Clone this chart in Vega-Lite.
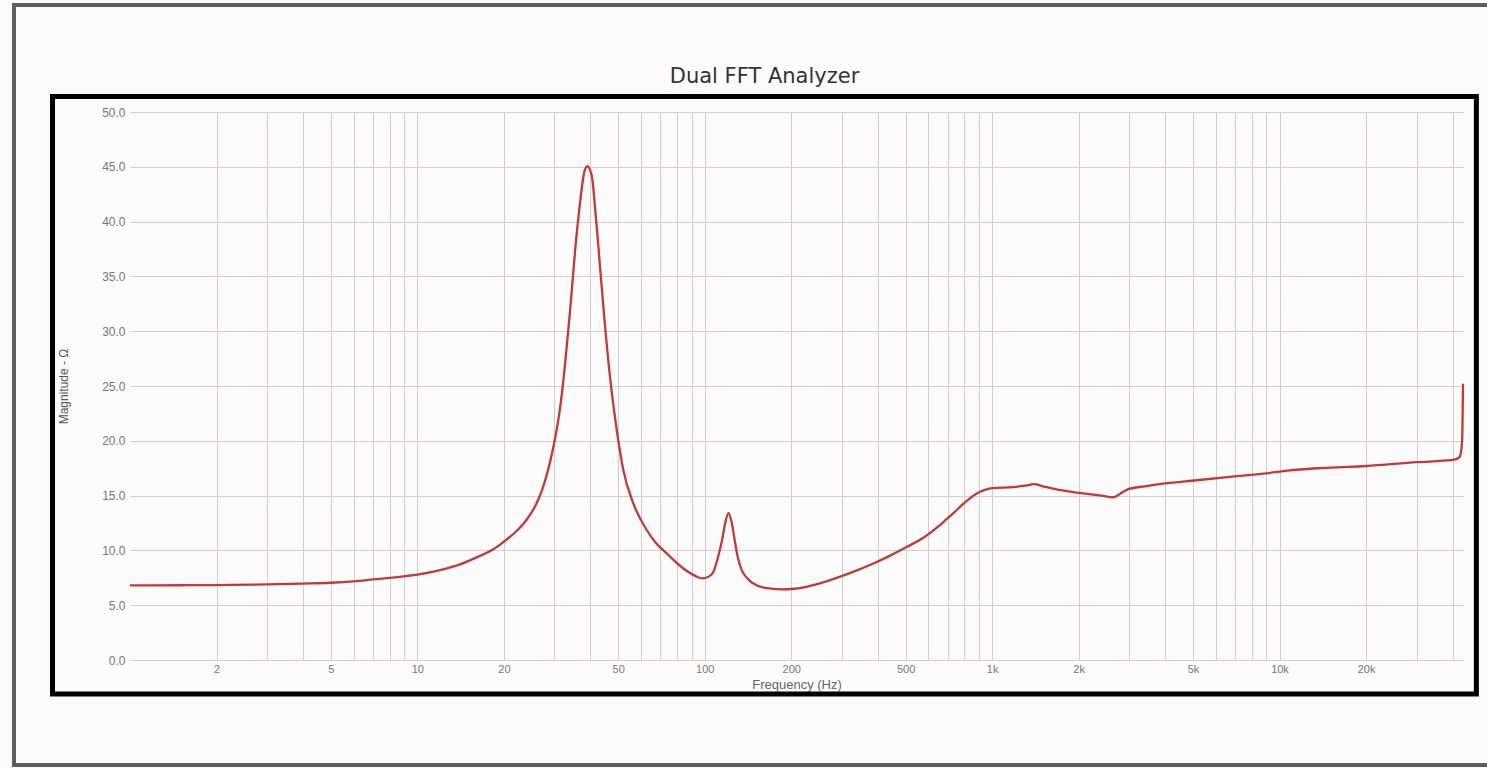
{
  "$schema": "https://vega.github.io/schema/vega-lite/v6.json",
  "width": 1333,
  "height": 548,
  "autosize": {"type": "none"},
  "padding": {"left": 130, "top": 112, "right": 24, "bottom": 108},
  "background": "#fbfbfb",
  "config": {
    "view": {"stroke": null},
    "font": "Liberation Sans"
  },
  "title": {
    "text": "Dual FFT Analyzer",
    "font": "DejaVu Sans",
    "fontSize": 21,
    "fontWeight": "normal",
    "color": "#333333",
    "anchor": "middle",
    "frame": "group",
    "dx": -32,
    "offset": -84
  },
  "layer": [
    {
      "data": {
        "values": [
          {"f": 1, "z": 6.8},
          {"f": 1.5, "z": 6.82},
          {"f": 2, "z": 6.84},
          {"f": 3, "z": 6.9},
          {"f": 4, "z": 6.97},
          {"f": 5, "z": 7.05},
          {"f": 6, "z": 7.18},
          {"f": 7, "z": 7.35},
          {"f": 8, "z": 7.5},
          {"f": 10, "z": 7.78},
          {"f": 12, "z": 8.2},
          {"f": 14, "z": 8.7},
          {"f": 16.5, "z": 9.5},
          {"f": 18.4, "z": 10.1},
          {"f": 20, "z": 10.8},
          {"f": 22, "z": 11.7},
          {"f": 24, "z": 12.8},
          {"f": 26, "z": 14.3},
          {"f": 27.4, "z": 15.8},
          {"f": 29.6, "z": 19.2},
          {"f": 31.3, "z": 22.8},
          {"f": 32.6, "z": 26.8},
          {"f": 34.0, "z": 31.9},
          {"f": 35.4, "z": 37.4},
          {"f": 36.8, "z": 41.7},
          {"f": 38.0, "z": 44.4},
          {"f": 39.0, "z": 45.05},
          {"f": 40.4, "z": 44.25},
          {"f": 41.8, "z": 40.4},
          {"f": 43.2, "z": 35.9},
          {"f": 44.9, "z": 30.7},
          {"f": 46.8, "z": 25.85},
          {"f": 49.4, "z": 21.0},
          {"f": 52.1, "z": 17.3},
          {"f": 56.4, "z": 14.3},
          {"f": 62.8, "z": 11.86},
          {"f": 68, "z": 10.6},
          {"f": 73.7, "z": 9.73},
          {"f": 82, "z": 8.6},
          {"f": 88, "z": 8.0},
          {"f": 93, "z": 7.65},
          {"f": 98, "z": 7.45},
          {"f": 103, "z": 7.6},
          {"f": 107, "z": 8.0},
          {"f": 111, "z": 9.3},
          {"f": 115, "z": 11.0},
          {"f": 118, "z": 12.6},
          {"f": 121, "z": 13.4},
          {"f": 124, "z": 12.6},
          {"f": 127, "z": 11.0},
          {"f": 130, "z": 9.5},
          {"f": 134, "z": 8.3},
          {"f": 140, "z": 7.5},
          {"f": 152, "z": 6.8},
          {"f": 165, "z": 6.55},
          {"f": 183, "z": 6.45},
          {"f": 205, "z": 6.5},
          {"f": 226, "z": 6.68},
          {"f": 260, "z": 7.1},
          {"f": 296, "z": 7.6},
          {"f": 340, "z": 8.2},
          {"f": 386, "z": 8.8},
          {"f": 440, "z": 9.5},
          {"f": 504, "z": 10.3},
          {"f": 580, "z": 11.2},
          {"f": 658, "z": 12.3},
          {"f": 691, "z": 12.8},
          {"f": 740, "z": 13.5},
          {"f": 790, "z": 14.2},
          {"f": 837, "z": 14.75},
          {"f": 900, "z": 15.3},
          {"f": 950, "z": 15.55},
          {"f": 1000, "z": 15.68},
          {"f": 1184, "z": 15.78},
          {"f": 1300, "z": 15.9},
          {"f": 1400, "z": 16.04},
          {"f": 1500, "z": 15.85},
          {"f": 1676, "z": 15.56},
          {"f": 2074, "z": 15.2},
          {"f": 2400, "z": 15.0},
          {"f": 2650, "z": 14.85},
          {"f": 2800, "z": 15.2},
          {"f": 2950, "z": 15.55},
          {"f": 3400, "z": 15.85},
          {"f": 3936, "z": 16.1},
          {"f": 5143, "z": 16.4},
          {"f": 6714, "z": 16.7},
          {"f": 8770, "z": 17.0},
          {"f": 10850, "z": 17.3},
          {"f": 15000, "z": 17.55},
          {"f": 20000, "z": 17.7},
          {"f": 30000, "z": 18.05},
          {"f": 40000, "z": 18.25},
          {"f": 42300, "z": 18.5},
          {"f": 43200, "z": 20.0},
          {"f": 43400, "z": 23.0},
          {"f": 43500, "z": 25.2}
        ]
      },
      "mark": {"type": "line", "color": "#bf3b33", "strokeWidth": 2.3, "interpolate": "monotone"},
      "encoding": {
        "x": {
          "field": "f",
          "type": "quantitative",
          "title": "Frequency (Hz)",
          "scale": {"type": "log", "domain": [1, 43500], "nice": false, "zero": false},
          "axis": {
            "values": [2, 3, 4, 5, 6, 7, 8, 9, 10, 20, 30, 40, 50, 60, 70, 80, 90, 100, 200, 300, 400, 500, 600, 700, 800, 900, 1000, 2000, 3000, 4000, 5000, 6000, 7000, 8000, 9000, 10000, 20000, 30000, 40000],
            "labelExpr": "test(regexp('^[125]0*$'), '' + datum.value) ? (datum.value >= 1000 ? (datum.value / 1000) + 'k' : '' + datum.value) : ''",
            "labelOverlap": false,
            "labelFontSize": 11,
            "labelColor": "#777777",
            "labelPadding": 3,
            "ticks": false,
            "domain": false,
            "gridColor": "#d6cccc",
            "gridWidth": 1,
            "titleFontSize": 13,
            "titleFontWeight": "normal",
            "titleColor": "#666666",
            "titlePadding": 4
          }
        },
        "y": {
          "field": "z",
          "type": "quantitative",
          "title": "Magnitude - Ω",
          "scale": {"domain": [0, 50], "nice": false},
          "axis": {
            "values": [0, 5, 10, 15, 20, 25, 30, 35, 40, 45, 50],
            "format": ".1f",
            "labelFontSize": 12,
            "labelColor": "#777777",
            "labelPadding": 5,
            "ticks": false,
            "domain": false,
            "gridColor": "#d6cccc",
            "gridWidth": 1,
            "titleFontSize": 12,
            "titleFontWeight": "normal",
            "titleColor": "#555555",
            "titlePadding": 31
          }
        }
      }
    },
    {
      "data": {"values": [{}]},
      "mark": {"type": "rect", "fill": null, "stroke": "#000000", "strokeWidth": 5, "clip": false},
      "encoding": {
        "x": {"datum": 0.5375, "type": "quantitative", "title": "Frequency (Hz)"},
        "x2": {"datum": 48420},
        "y": {"datum": 51.41, "type": "quantitative", "title": "Magnitude - Ω"},
        "y2": {"datum": -3.1}
      }
    },
    {
      "data": {"values": [{}]},
      "mark": {"type": "rect", "fill": null, "stroke": "#5e5e5e", "strokeWidth": 4, "clip": false},
      "encoding": {
        "x": {"datum": 0.3948, "type": "quantitative", "title": "Frequency (Hz)"},
        "x2": {"datum": 70000},
        "y": {"datum": 59.76, "type": "quantitative", "title": "Magnitude - Ω"},
        "y2": {"datum": -9.58}
      }
    }
  ]
}
